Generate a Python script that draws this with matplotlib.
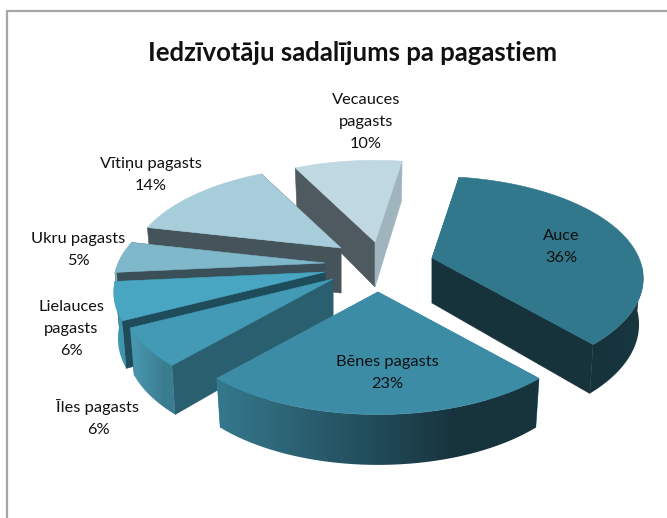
import numpy as np
import matplotlib
matplotlib.use("Agg")
import matplotlib.pyplot as plt
from matplotlib.colors import to_rgb
from matplotlib.patches import Polygon

plt.rcParams['font.family'] = ['Lato', 'DejaVu Sans']

title = "Iedzīvotāju sadalījums pa pagastiem"
names = ["Auce", "Bēnes\u00a0pagasts", "Īles pagasts", "Lielauces\npagasts",
         "Ukru pagasts", "Vītiņu pagasts", "Vecauces\npagasts"]
shares = [36, 23, 6, 6, 5, 14, 10]

# layout, in image pixels
apex_x = [432, 378, 333, 325, 325, 341, 375]
apex_y = [258, 292, 279, 272, 263, 248, 242]
label_x = [561, 387, 98, 71, 78, 151, 366]
label_y = [247, 373, 418, 329, 250, 175, 122]

top_col = ["#32788c", "#3c8ca6", "#429ab5", "#48a6c2", "#7fb7cb", "#a7ccda", "#c0d8e2"]
start_col = ["#32788c", "#3c8ca6", "#2a5f70", "#1f4c5b", "#3a4f57", "#45545a", "#4f5a60"]
end_col = ["#16323b", "#3c8ca6", "#2a5f70", "#1f4c5b", "#3a4f57", "#45545a", "#9fb4bd"]
side_left = ["#16323b", "#35788e", "#4a9ab3", "#4299b3", "#7fb7cb", "#a7ccda", "#c0d8e2"]
side_right = ["#183640", "#17333c", "#3a7d90", "#3f93ad", "#7fb7cb", "#a7ccda", "#c0d8e2"]

first_angle = 9.0
A, B, K, DEPTH = 207.0, 98.0, 0.2, 45.0


def project(cx, cy, deg):
    th = np.radians(deg)
    X, Y = np.sin(th), -np.cos(th)
    s = 1 / (1 - K * Y)
    return cx + A * X * s, cy + B * Y * s


def lowered(cx, px, py, Y):
    return cx + (px - cx) * 0.98, py + DEPTH * (1 + 0.12 * Y)


def quad(ax, pts, col):
    xs, ys = zip(*pts)
    ax.fill(xs, ys, color=col, lw=0.4, zorder=ax.zn)
    ax.zn += 1


fig = plt.figure(figsize=(6.67, 5.18), dpi=100)
ax = fig.add_axes([0, 0, 1, 1])
ax.set_xlim(0, 667)
ax.set_ylim(518, 0)
ax.axis('off')
ax.autoscale(False)
ax.zn = 2

# chart frame
ax.plot([7, 7, 667], [518, 11, 11], color="#a6a6a6", lw=1.6, zorder=1)

ends = first_angle + np.cumsum(shares) * 3.6
starts = ends - np.array(shares) * 3.6

for i in [6, 5, 4, 3, 2, 0, 1]:
    cx, cy = apex_x[i], apex_y[i]
    angs = np.linspace(starts[i], ends[i], 80)
    px, py = project(cx, cy, angs)
    Ys = -np.cos(np.radians(angs))
    bx, by = lowered(cx, px, py, Ys)
    ax0, ay0 = lowered(cx, cx, cy, 0)

    # cut faces
    quad(ax, [(cx, cy), (px[0], py[0]), (bx[0], by[0]), (ax0, ay0)], start_col[i])
    quad(ax, [(cx, cy), (px[-1], py[-1]), (bx[-1], by[-1]), (ax0, ay0)], end_col[i])

    # outer wall, only the part facing us, shaded along x
    front = Ys > 0.05
    if front.sum() > 1:
        wall = np.vstack([np.column_stack([px[front], py[front]]),
                          np.column_stack([bx[front], by[front]])[::-1]])
        lo, hi = wall[:, 0].min(), wall[:, 0].max()
        t = np.clip(np.linspace(0, 1, 256) / 0.75, 0, 1)[:, None]
        c0, c1 = np.array(to_rgb(side_left[i])), np.array(to_rgb(side_right[i]))
        grad = (c0 + (c1 - c0) * t)[None, :, :]
        im = ax.imshow(grad, extent=[lo, hi, wall[:, 1].max(), wall[:, 1].min()],
                       aspect='auto', zorder=ax.zn)
        clip = Polygon(wall, closed=True, transform=ax.transData)
        im.set_clip_path(clip)
        ax.zn += 1

    # top
    quad(ax, [(cx, cy)] + list(zip(px, py)), top_col[i])

for name, v, x, y in zip(names, shares, label_x, label_y):
    ax.text(x, y, f"{name}\n{v}%", ha='center', va='center', fontsize=11.8, color="#111111",
            linespacing=1.7, zorder=200)

ax.text(353, 53, title, ha='center', va='center', fontsize=18.5, fontweight='bold',
        color="#111111", zorder=200)

fig.savefig("out.png", dpi=100)
